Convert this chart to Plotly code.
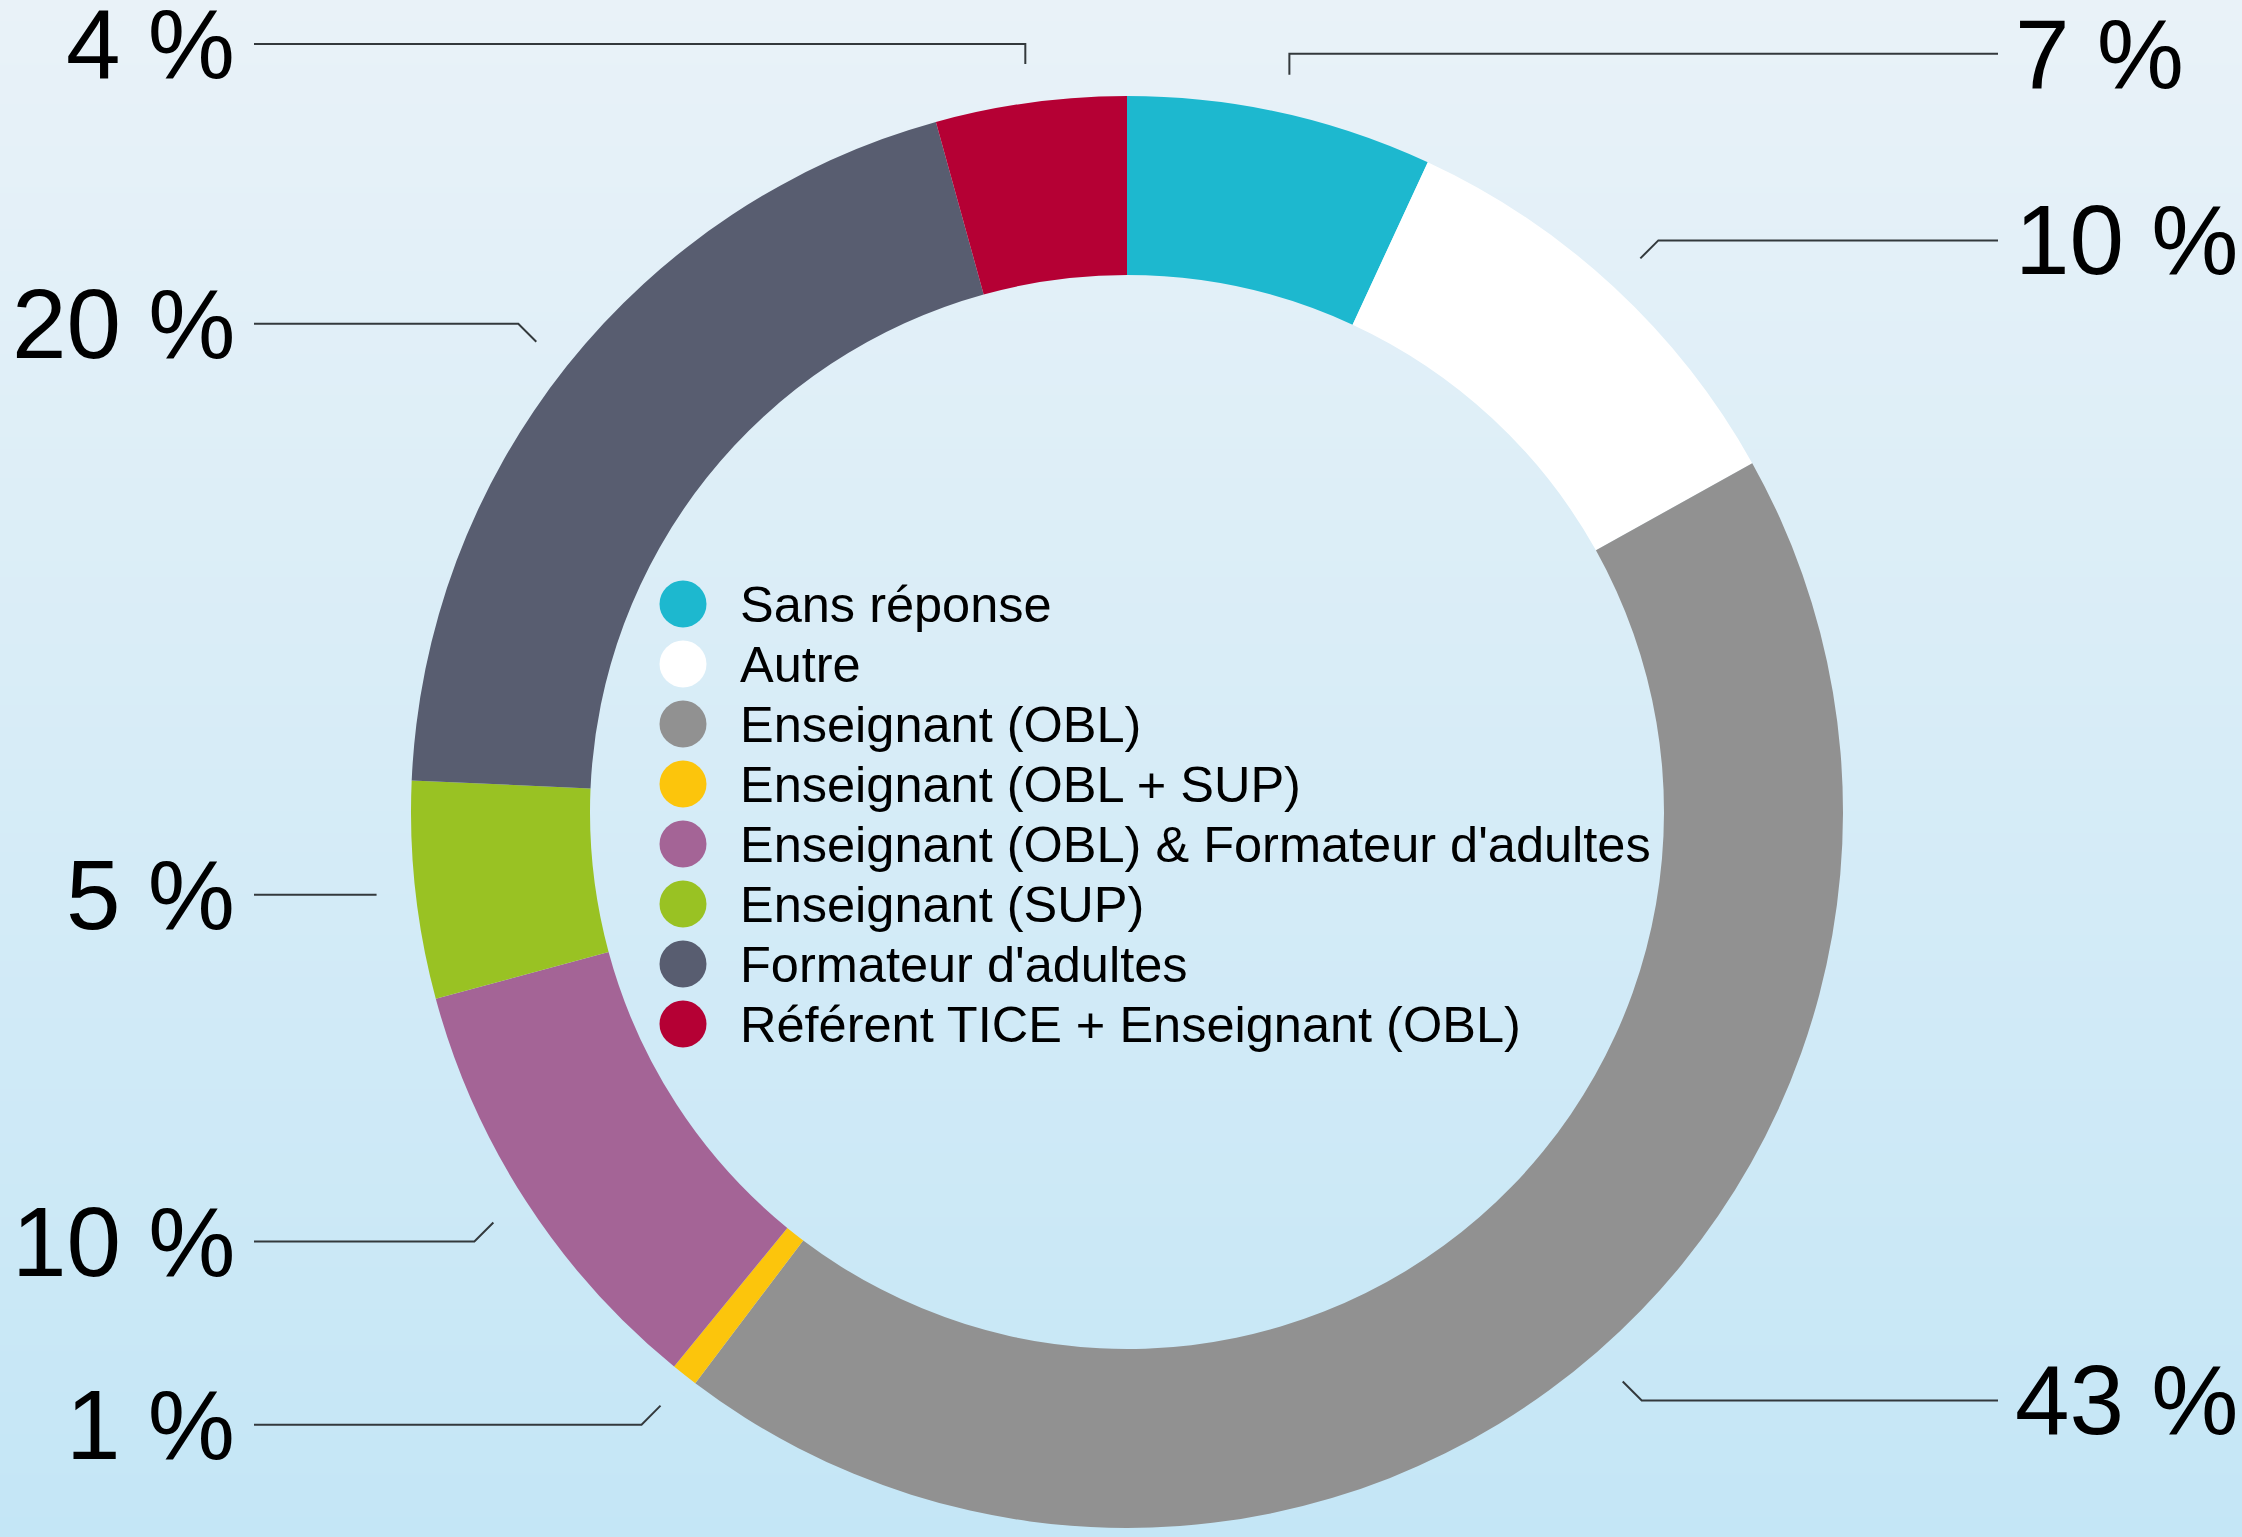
import math

import plotly.graph_objects as go

# slices, clockwise from 12 o'clock
categories = [
    "Sans réponse",
    "Autre",
    "Enseignant (OBL)",
    "Enseignant (OBL + SUP)",
    "Enseignant (OBL) & Formateur d'adultes",
    "Enseignant (SUP)",
    "Formateur d'adultes",
    "Référent TICE + Enseignant (OBL)",
]
shares = [6.9, 10.0, 43.4, 0.6, 9.9, 4.9, 20.0, 4.3]
colors = ["#1db8cf", "#ffffff", "#919191", "#fcc50c", "#a46496", "#99c223", "#585d70", "#b50034"]

# layout (pixels of the 2242x1537 page)
W, H = 2242, 1537
CX, CY, R = 1127, 812, 716
HOLE = 0.75
LEAD_R = 755
LINE_X = {1: 1998, -1: 254}
LABEL_X = {1: 2013, -1: 237}
# elbow of each leader: "v" = straight up, "d" = 45 degree kink, value = vertical offset
elbows = [("v", -21), ("d", -18), ("d", 19), ("d", 19), ("d", 19), ("d", 0), ("d", -18), ("v", -20)]
LEG_DOT_X, LEG_TEXT_X, LEG_Y0, LEG_DY = 683, 738, 604, 60
FONT = "Liberation Sans, Arial, Helvetica, sans-serif"
BG_TOP, BG_BOTTOM = "#e9f2f8", "#c4e6f6"

fig = go.Figure()

# background gradient
fig.add_trace(go.Heatmap(
    z=[[0, 0], [1, 1]], x=[0, W], y=[0, H],
    colorscale=[[0, BG_TOP], [1, BG_BOTTOM]],
    zsmooth="best", showscale=False, hoverinfo="skip",
))

fig.add_trace(go.Pie(
    labels=categories, values=shares, hole=HOLE,
    sort=False, direction="clockwise", rotation=0,
    marker=dict(colors=colors, line=dict(width=0)),
    textinfo="none", showlegend=False,
    domain=dict(x=[(CX - R) / W, (CX + R) / W],
                y=[(H - CY - R) / H, (H - CY + R) / H]),
))

# leader lines and percentage labels
total = sum(shares)
lx, ly = [], []
annotations = []
cum = 0
for val, (kind, dy) in zip(shares, elbows):
    mid = (cum + val / 2) / total * 2 * math.pi
    cum += val
    ex = CX + LEAD_R * math.sin(mid)
    ey = CY - LEAD_R * math.cos(mid)
    side = 1 if math.sin(mid) > 0 else -1
    y_lab = ey + dy
    bx = ex if kind == "v" else ex + side * abs(dy)
    lx += [ex, bx, LINE_X[side], None]
    ly += [ey, y_lab, y_lab, None]
    annotations.append(dict(
        x=LABEL_X[side], y=y_lab, xref="x", yref="y",
        text=f"{round(val)} %", showarrow=False,
        xanchor="left" if side > 0 else "right", yanchor="middle",
        font=dict(family=FONT, size=98, color="black"),
    ))

fig.add_trace(go.Scatter(
    x=lx, y=ly, mode="lines",
    line=dict(color="#33393c", width=2),
    hoverinfo="skip", showlegend=False,
))

# legend inside the hole
leg_y = [LEG_Y0 + i * LEG_DY for i in range(len(categories))]
fig.add_trace(go.Scatter(
    x=[LEG_DOT_X] * len(categories), y=leg_y, mode="markers",
    marker=dict(size=47, color=colors, line=dict(width=0)),
    hoverinfo="skip", showlegend=False,
))
for name, y in zip(categories, leg_y):
    annotations.append(dict(
        x=LEG_TEXT_X, y=y, xref="x", yref="y", text=name, showarrow=False,
        xanchor="left", yanchor="middle",
        font=dict(family=FONT, size=50.5, color="black"),
    ))

fig.update_xaxes(range=[0, W], visible=False, fixedrange=True, domain=[0, 1])
fig.update_yaxes(range=[H, 0], visible=False, fixedrange=True, domain=[0, 1])
fig.update_layout(
    width=W, height=H,
    margin=dict(l=0, r=0, t=0, b=0),
    paper_bgcolor=BG_BOTTOM, plot_bgcolor="rgba(0,0,0,0)",
    annotations=annotations,
    showlegend=False,
)

fig.write_html("out.html", config={"displayModeBar": False},
               post_script="document.body.style.margin = '0';")
